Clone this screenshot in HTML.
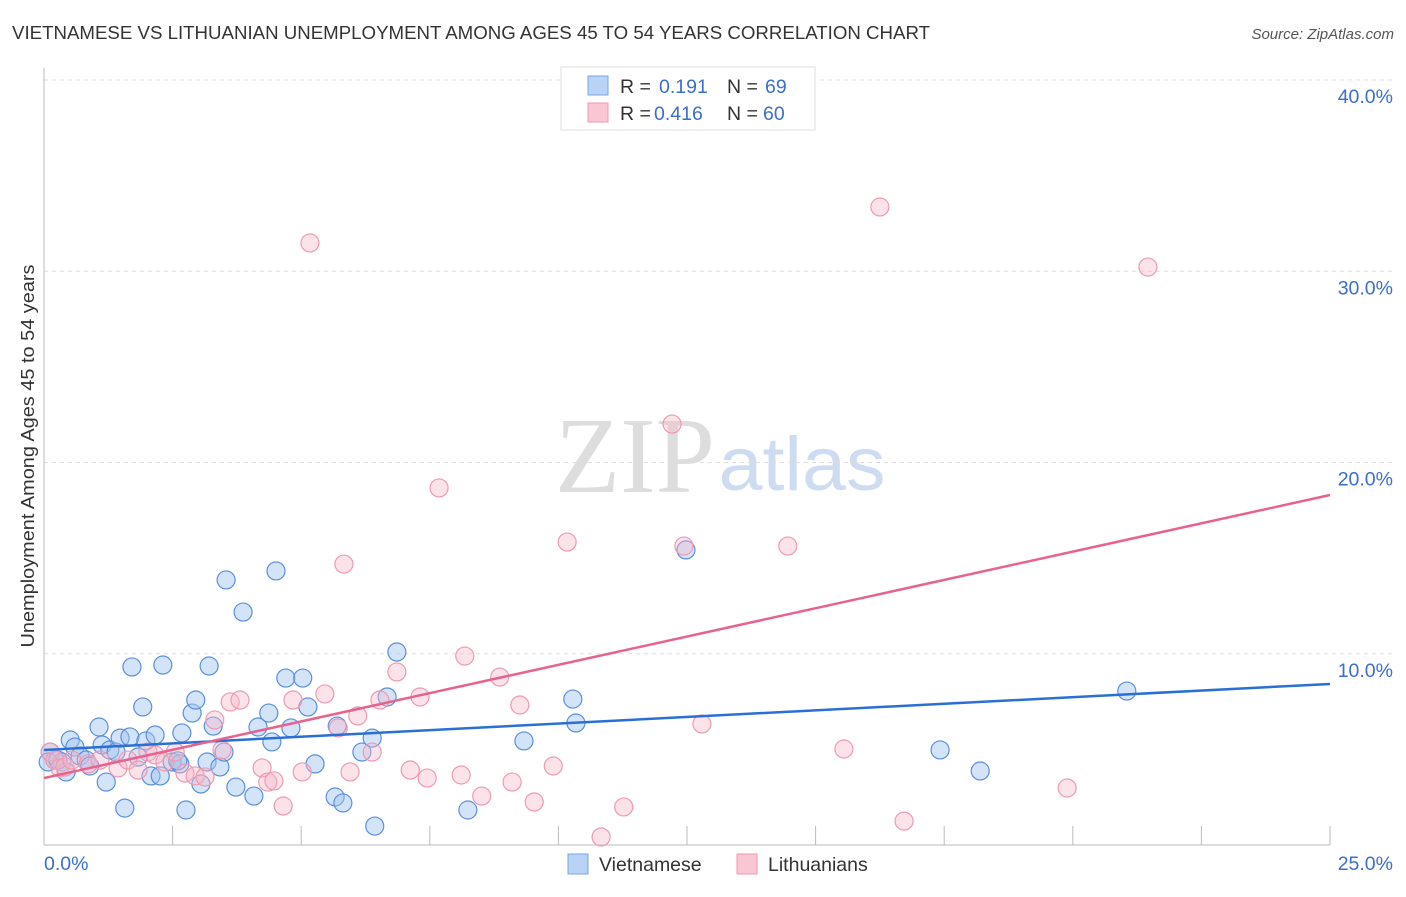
<!DOCTYPE html>
<html><head><meta charset="utf-8"><style>
body{margin:0;background:#fff;font-family:"Liberation Sans",sans-serif;}
svg text{font-family:"Liberation Sans",sans-serif;}
</style></head><body>
<svg id="chart" width="1406" height="892" xmlns="http://www.w3.org/2000/svg">
<text x="12" y="39" font-size="18" fill="#333" textLength="918" lengthAdjust="spacingAndGlyphs">VIETNAMESE VS LITHUANIAN UNEMPLOYMENT AMONG AGES 45 TO 54 YEARS CORRELATION CHART</text>
<text x="1394" y="39" font-size="15" fill="#555" text-anchor="end" font-style="italic">Source: ZipAtlas.com</text>
<g>
<text x="635" y="492" font-size="108" fill="#ddd" text-anchor="middle" style="font-family:'Liberation Serif',serif" textLength="160" lengthAdjust="spacingAndGlyphs">ZIP</text>
<text x="802" y="490" font-size="76" fill="#cddcf0" text-anchor="middle" textLength="167" lengthAdjust="spacingAndGlyphs">atlas</text>
</g>
<g id="grid"></g>
<g id="axes"></g>
<g id="marks"></g>
<text transform="translate(34,456) rotate(-90)" font-size="18" fill="#333" text-anchor="middle" textLength="383" lengthAdjust="spacingAndGlyphs">Unemployment Among Ages 45 to 54 years</text>
<g>
<rect x="561" y="67" width="254" height="63" fill="#fff" stroke="#ddd"/>
<rect x="588" y="76" width="20" height="19" fill="#b8d3f5" stroke="#7aa6e0"/>
<rect x="588" y="103" width="20" height="19" fill="#fac6d4" stroke="#ee9ab2"/>
<text x="620" y="93" font-size="19.5" fill="#333">R = </text><text x="659" y="93" font-size="19.5" fill="#3a6fcc">0.191</text>
<text x="727" y="93" font-size="19.5" fill="#333">N = </text><text x="765" y="93" font-size="19.5" fill="#3a6fcc">69</text>
<text x="620" y="120" font-size="19.5" fill="#333">R = </text><text x="654" y="120" font-size="19.5" fill="#3a6fcc">0.416</text>
<text x="727" y="120" font-size="19.5" fill="#333">N = </text><text x="763" y="120" font-size="19.5" fill="#3a6fcc">60</text>
</g>
<g>
<rect x="568" y="854" width="20" height="20" fill="#b8d3f5" stroke="#7aa6e0"/>
<text x="599" y="871" font-size="19.5" fill="#333">Vietnamese</text>
<rect x="737" y="854" width="20" height="20" fill="#fac6d4" stroke="#ee9ab2"/>
<text x="768" y="871" font-size="19.5" fill="#333">Lithuanians</text>
</g>
</svg>
<script>
const xTicks=[0,2.5,5,7.5,10,12.5,15,17.5,20,22.5,25];
const yTicks=[10,20,30,40];
const yTickLabels=["10.0%","20.0%","30.0%","40.0%"];
const vietX=[0.12,0.21,0.35,0.43,0.51,0.60,0.70,0.82,0.89,1.07,1.13,1.21,1.28,1.40,1.48,1.57,1.67,1.71,1.83,1.92,1.98,2.08,2.16,2.26,2.31,2.49,2.64,2.68,2.76,2.88,2.95,3.05,3.17,3.21,3.29,3.42,3.50,3.54,3.73,3.87,4.08,4.16,4.37,4.43,4.51,4.70,4.80,5.03,5.13,5.27,5.66,5.70,5.81,6.18,6.38,6.43,6.67,6.86,8.24,9.33,10.28,10.34,12.48,17.42,18.20,21.05,0.08,0.27,2.60];
const vietY=[4.86,4.44,4.34,3.82,5.49,5.12,4.65,4.44,4.13,6.17,5.23,3.29,4.97,4.86,5.59,1.93,5.65,9.31,4.60,7.22,5.44,3.61,5.75,3.61,9.41,4.34,4.24,5.86,1.83,6.90,7.58,3.19,4.34,9.36,6.22,4.08,4.86,13.86,3.03,12.18,2.56,6.17,6.90,5.39,14.33,8.73,6.12,8.73,7.22,4.24,2.51,6.22,2.20,4.86,5.59,0.99,7.74,10.09,1.83,5.44,7.63,6.38,15.43,4.97,3.87,8.05,4.34,4.44,4.40];
const lithX=[0.12,0.21,0.31,0.41,0.54,0.86,1.09,1.44,1.63,1.83,2.02,2.16,2.35,2.55,2.74,2.94,3.13,3.32,3.46,3.62,3.81,4.24,4.35,4.47,4.65,4.84,5.02,5.17,5.46,5.72,5.83,5.95,6.10,6.38,6.53,6.86,7.12,7.31,7.45,7.68,8.11,8.18,8.51,8.86,9.10,9.25,9.53,9.90,10.17,10.83,11.27,12.21,12.44,12.79,14.46,15.55,16.25,16.72,21.46,19.89];
const lithY=[4.86,4.44,4.03,4.08,4.44,4.24,4.44,4.03,4.44,3.92,4.86,4.71,4.34,4.86,3.76,3.61,3.56,6.54,4.97,7.48,7.58,4.03,3.29,3.35,2.04,7.58,3.82,31.48,7.90,6.12,14.69,3.82,6.75,4.86,7.58,9.05,3.92,7.74,3.50,18.67,3.66,9.88,2.56,8.78,3.29,7.32,2.25,4.13,15.84,0.42,1.99,22.01,15.63,6.33,15.63,5.02,33.36,1.25,30.22,2.98];
const vietTrend=[4.97,8.42];
const lithTrend=[3.50,18.30];
const NS="http://www.w3.org/2000/svg";
const X=v=>44+v/25*1286;
const Y=v=>845-v/40*765;
function mk(tag,attrs,parent){const e=document.createElementNS(NS,tag);for(const k in attrs)e.setAttribute(k,attrs[k]);document.getElementById(parent).appendChild(e);return e;}
yTicks.forEach((t,i)=>{
  const g=mk('line',{x1:44,x2:1392,y1:Y(t),y2:Y(t),stroke:'#ddd','stroke-dasharray':'4,4'},'grid');
  
  
  const l=mk('text',{x:1393,y:Y(t)+23,'font-size':19.5,fill:'#3a6fcc','text-anchor':'end'},'axes');
  l.textContent=yTickLabels[i];
  
  
});
const ax=mk('line',{x1:44,x2:1330,y1:845,y2:845,stroke:'#bbb'},'axes');


const ay=mk('line',{x1:44,x2:44,y1:68,y2:845,stroke:'#bbb'},'axes');


xTicks.forEach((t,i)=>{
  if(i===0)return;
  const tk=mk('line',{x1:X(t),x2:X(t),y1:826,y2:845,stroke:'#bbb'},'axes');
  
  
});
const x0=mk('text',{x:44,y:870,'font-size':19.5,fill:'#3a6fcc'},'axes');x0.textContent='0.0%';


const x1=mk('text',{x:1393,y:870,'font-size':19.5,fill:'#3a6fcc','text-anchor':'end'},'axes');x1.textContent='25.0%';


vietX.forEach((v,i)=>{
  const c=mk('circle',{cx:X(v),cy:Y(vietY[i]),r:9,fill:'rgba(160,196,240,0.45)',stroke:'#5b8fdc','stroke-width':1.2},'marks');
  
  
});
lithX.forEach((v,i)=>{
  const c=mk('circle',{cx:X(v),cy:Y(lithY[i]),r:9,fill:'rgba(248,182,200,0.4)',stroke:'#ee9ab2','stroke-width':1.2},'marks');
  
  
});
const tb=mk('line',{x1:X(0),x2:X(25),y1:Y(vietTrend[0]),y2:Y(vietTrend[1]),stroke:'#2a6fd6','stroke-width':2.5},'marks');


const tp=mk('line',{x1:X(0),x2:X(25),y1:Y(lithTrend[0]),y2:Y(lithTrend[1]),stroke:'#e8628e','stroke-width':2.5},'marks');


</script>
</body></html>
